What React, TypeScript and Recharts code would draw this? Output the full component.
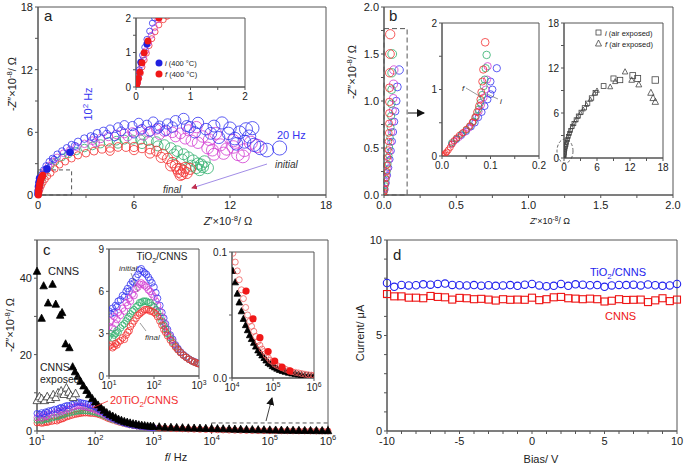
import React from "react";
import { ScatterChart, Scatter, XAxis, YAxis, ReferenceArea } from "recharts";

const FONT = "'Liberation Sans', Arial, sans-serif";
const AX = "#555";
const BLUE = "#3434f0";
const MAG = "#d23cd2";
const GREEN = "#2fae6c";
const RED = "#f23030";

// ---- panel a: Nyquist, four runs (initial -> final) ----
const aBlue = [[0.02,0.1],[0.05,0.4],[0.08,0.8],[0.12,1.2],[0.18,1.6],[0.25,2.0],[0.35,2.4],[0.5,2.8],[0.7,3.2],[0.9,3.5],[1.0,3.4],[1.2,3.9],[1.5,4.2],[1.8,4.5],[2.1,4.8],[2.3,4.7],[2.5,5.1],[2.9,5.4],[3.3,5.6],[3.5,5.5],[3.7,5.9],[4.1,6.1],[4.3,5.8],[4.5,6.3],[4.8,5.6],[5.0,6.5],[5.2,6.1],[5.4,6.7],[5.9,6.6],[6.0,5.9],[6.3,6.9],[6.5,6.3],[6.8,6.7],[7.0,6.1],[7.2,7.0],[7.5,6.4],[7.6,6.6],[8.0,6.2],[8.1,6.8],[8.4,6.5],[8.6,7.1],[9.1,7.3],[9.3,6.6],[9.5,6.5],[9.8,6.0],[10.0,6.9],[10.5,6.3],[10.8,5.9],[11.0,6.6],[11.3,5.5],[11.5,6.9],[11.9,5.9],[12.0,6.4],[12.3,5.4],[12.4,4.9],[12.6,6.0],[12.9,5.1],[13.0,6.3],[13.2,5.6],[13.4,6.4],[13.5,4.8],[13.9,4.5],[14.3,4.3],[15.1,4.5]];
const aMag = [[0.03,0.1],[0.06,0.4],[0.1,0.8],[0.15,1.2],[0.22,1.6],[0.32,2.0],[0.45,2.4],[0.65,2.8],[0.9,3.2],[1.2,3.6],[1.6,4.0],[2.0,4.3],[2.4,4.6],[2.9,4.9],[3.4,5.2],[3.6,5.0],[3.9,5.4],[4.4,5.6],[4.9,5.8],[5.4,5.9],[5.6,5.6],[5.9,6.0],[6.4,6.2],[6.6,5.7],[6.9,6.0],[7.4,6.3],[7.6,5.8],[7.9,6.1],[8.4,6.0],[8.6,5.6],[8.9,5.9],[9.2,5.4],[9.4,6.2],[9.6,5.2],[9.9,6.5],[10.0,5.0],[10.3,5.6],[10.6,4.5],[10.7,5.3],[10.9,4.3],[11.0,3.9],[11.1,5.9],[11.4,4.8],[11.6,4.0],[11.8,4.4],[12.2,5.2],[12.2,4.6],[12.5,3.9],[12.8,3.7],[12.9,4.3],[13.3,5.0],[13.7,4.7]];
const aGreen = [[0.03,0.1],[0.07,0.4],[0.12,0.8],[0.18,1.2],[0.27,1.6],[0.4,2.0],[0.55,2.4],[0.8,2.8],[1.1,3.2],[1.5,3.6],[1.9,3.9],[2.4,4.2],[2.9,4.5],[3.4,4.7],[3.9,4.9],[4.4,5.1],[4.9,5.2],[5.0,4.9],[5.4,5.3],[5.9,5.3],[6.4,5.3],[6.5,4.9],[6.9,5.2],[7.4,5.1],[7.5,4.7],[7.9,4.8],[8.3,4.5],[8.5,3.9],[8.7,4.2],[9.0,3.4],[9.1,3.9],[9.4,3.6],[9.6,2.8],[9.7,3.3],[9.9,2.6],[10.0,3.0],[10.1,2.4],[10.2,2.9],[10.3,2.7],[10.4,3.2],[10.6,2.6]];
const aRed = [[0.03,0.05],[0.08,0.3],[0.14,0.6],[0.22,0.9],[0.32,1.2],[0.45,1.5],[0.6,1.8],[0.8,2.1],[1.05,2.5],[1.35,2.9],[1.7,3.2],[2.1,3.5],[2.5,3.8],[3.0,4.0],[3.5,4.2],[4.0,4.4],[4.5,4.2],[4.5,4.5],[5.0,4.6],[5.5,4.6],[6.0,4.3],[6.0,4.6],[6.5,4.5],[7.0,4.0],[7.0,4.4],[7.4,4.2],[7.7,3.6],[7.8,3.9],[8.1,3.5],[8.3,2.8],[8.4,3.1],[8.6,2.8],[8.7,2.5],[8.8,2.2],[8.9,1.9],[8.9,2.5],[9.0,2.0],[9.1,2.3],[9.2,2.6],[9.3,2.1],[9.5,2.5]];
const aBlueDot = [[0.0,0.1],[0.01,0.4],[0.03,0.8],[0.06,1.2],[0.1,1.6],[0.56,2.5],[2.0,4.1]];
const aRedDot = [[0.02,0.0],[0.03,0.15],[0.04,0.35],[0.05,0.55],[0.07,0.75],[0.09,0.95],[0.12,1.15],[0.15,1.35],[0.19,1.55],[0.24,1.75],[0.3,1.9]];
// inset of a
const a1Red = [[0.01,0.02],[0.03,0.12],[0.05,0.25],[0.08,0.4],[0.11,0.58],[0.15,0.78],[0.19,0.98],[0.24,1.2],[0.29,1.4],[0.35,1.6],[0.42,1.8],[0.5,1.95],[0.57,2.05]];
const a1Mag = [[0.02,0.1],[0.04,0.25],[0.07,0.45],[0.1,0.65],[0.14,0.85],[0.18,1.05],[0.23,1.27],[0.28,1.5],[0.34,1.72],[0.4,1.95]];
const a1Blue = [[0.02,0.15],[0.04,0.32],[0.06,0.5],[0.09,0.72],[0.12,0.92],[0.16,1.15],[0.2,1.38],[0.25,1.62],[0.3,1.85],[0.34,2.0]];
const a1BlueDot = [[0.09,0.72],[0.2,1.25]];
const a1RedDot = [[0.01,0.03],[0.02,0.12],[0.04,0.25],[0.07,0.43],[0.11,0.7],[0.15,0.99],[0.22,1.33],[0.42,2.0]];

// ---- panel b ----
const bRed = [[0,0],[0.004,0.03],[0.008,0.07],[0.012,0.12],[0.016,0.18],[0.02,0.25],[0.023,0.32],[0.026,0.4],[0.029,0.48],[0.031,0.57],[0.033,0.66],[0.035,0.76],[0.036,0.87],[0.037,0.99],[0.038,1.14],[0.039,1.3],[0.041,1.5],[0.043,1.71]];
const bGreen = [[0.006,0.04],[0.012,0.1],[0.018,0.17],[0.024,0.25],[0.029,0.33],[0.034,0.42],[0.038,0.51],[0.042,0.61],[0.046,0.72],[0.049,0.84],[0.051,0.97],[0.053,1.12],[0.055,1.3],[0.057,1.5]];
const bMag = [[0.008,0.05],[0.015,0.12],[0.022,0.2],[0.029,0.28],[0.035,0.37],[0.041,0.46],[0.047,0.56],[0.052,0.67],[0.057,0.78],[0.061,0.9],[0.064,1.03],[0.066,1.18],[0.068,1.33]];
const bBlue = [[0.01,0.06],[0.018,0.13],[0.026,0.21],[0.034,0.29],[0.042,0.38],[0.05,0.47],[0.057,0.57],[0.064,0.67],[0.071,0.78],[0.078,0.89],[0.085,1.0],[0.092,1.15],[0.105,1.33]];
const b1Red = [[0,0],[0.002,0.01],[0.004,0.02],[0.007,0.04],[0.01,0.06],[0.013,0.09],[0.017,0.13],[0.021,0.18],[0.025,0.23],[0.03,0.27],[0.036,0.31],[0.043,0.35],[0.05,0.4],[0.057,0.45],[0.063,0.51],[0.068,0.58],[0.072,0.66],[0.076,0.75],[0.079,0.85],[0.081,0.96],[0.083,1.12],[0.085,1.3],[0.089,1.71]];
const b1Green = [[0.02,0.2],[0.03,0.26],[0.04,0.33],[0.05,0.39],[0.058,0.45],[0.065,0.52],[0.07,0.6],[0.075,0.7],[0.079,0.8],[0.083,0.92],[0.086,1.05],[0.088,1.15],[0.09,1.32],[0.092,1.52]];
const b1Mag = [[0.025,0.22],[0.035,0.28],[0.045,0.35],[0.055,0.42],[0.063,0.5],[0.07,0.58],[0.076,0.67],[0.081,0.77],[0.086,0.88],[0.09,1.0],[0.093,1.15],[0.094,1.35]];
const b1Blue = [[0.02,0.18],[0.03,0.25],[0.04,0.31],[0.05,0.37],[0.06,0.44],[0.068,0.5],[0.075,0.58],[0.082,0.66],[0.088,0.75],[0.094,0.85],[0.1,0.93],[0.104,1.0],[0.1,1.12],[0.113,1.32]];
const b2Sq = [[0,0],[0.05,0.3],[0.1,0.6],[0.15,0.9],[0.2,1.2],[0.3,1.5],[0.4,1.8],[0.5,2.1],[0.65,2.5],[0.8,2.9],[1.0,3.3],[1.2,3.7],[1.5,4.2],[1.8,4.6],[2.2,5.1],[2.6,5.6],[3.1,6.1],[3.7,6.7],[4.3,7.3],[5.0,8.0],[5.7,8.7],[7.2,9.6],[9.0,10.6],[10.2,10.4],[12.5,11.0],[13.4,10.6],[16.6,10.4]];
const b2Tri = [[0,0],[0.05,0.4],[0.1,0.7],[0.15,1.0],[0.2,1.3],[0.3,1.7],[0.4,2.0],[0.55,2.4],[0.7,2.8],[0.9,3.2],[1.1,3.6],[1.4,4.1],[1.7,4.5],[2.1,5.0],[2.5,5.5],[3.0,6.0],[3.5,6.5],[4.1,7.1],[4.8,7.8],[5.5,8.6],[6.0,9.0],[8.4,9.5],[9.3,10.2],[11.1,11.5],[12.3,10.4],[13.6,9.8],[15.8,8.7],[16.2,8.0],[16.6,7.5]];

// ---- panel c: -Z'' vs frequency ----
const cTriF = [10,12,13,15.5,18.5,21,25,27,31,36,41,45,50,56,63,71,79,89,100,112,126,141,158,178,200,224,251,282,316,355,398,447,501,562,631,708,794,891,1000,1260,1580,2000,2510,3160,3980,5010,6310,7940,1e4,1.26e4,1.58e4,2e4,2.51e4,3.16e4,3.98e4,5.01e4,6.31e4,7.94e4,1e5,1.26e5,1.58e5,2e5,2.51e5,3.16e5,3.98e5,5.01e5,6.31e5,7.94e5,1e6];
const cTriY = [41.8,29.5,38,33.5,38.4,33.2,30.3,31,22.8,21.8,16.8,15.5,14.3,13,11.8,10.6,9.5,8.5,7.6,6.8,6.1,5.4,4.8,4.3,3.9,3.5,3.1,2.8,2.5,2.3,2.1,1.9,1.8,1.6,1.5,1.4,1.3,1.25,1.2,1.1,1.0,0.95,0.9,0.85,0.8,0.76,0.72,0.68,0.65,0.6,0.56,0.52,0.48,0.44,0.4,0.36,0.33,0.3,0.27,0.24,0.21,0.19,0.17,0.15,0.13,0.12,0.1,0.09,0.08];
const cExpF = [10,11,12,13.5,15,17,19,21,23,26,29,32,35,38,42,46];
const cExpY = [8.0,9.0,8.5,8.0,9.0,8.3,9.5,8.8,10.0,10.5,9.6,11.3,10.2,9.3,8.8,9.8];
const cF = [10,11,12,13,14,15,16,18,20,22,24,26,28,30,33,36,40,44,48,52,57,62,68,75,82,90,100,110,120,135,150,165,180,200,230,260,300,340,390,450,520,600,700,800,900,1000];
const cBlue = [4.6,4.4,4.8,4.5,5.0,4.9,5.3,5.4,5.7,5.6,6.0,6.2,6.0,6.5,6.7,6.6,7.0,7.2,7.5,7.6,7.4,7.3,7.2,7.0,6.8,6.6,6.3,5.9,5.5,5.0,4.5,4.1,3.7,3.3,2.9,2.6,2.2,1.95,1.7,1.5,1.35,1.2,1.08,1.0,0.93,0.87];
const cMag = [3.5,3.9,3.4,4.2,3.7,4.0,4.5,4.3,4.8,4.6,5.2,5.0,5.5,5.3,5.8,5.7,6.2,6.3,6.5,6.6,6.5,6.4,6.3,6.1,6.0,5.8,5.6,5.3,5.0,4.6,4.2,3.8,3.5,3.15,2.8,2.5,2.15,1.9,1.68,1.49,1.33,1.19,1.07,0.99,0.92,0.87];
const cGreen = [2.8,3.0,2.7,2.9,3.0,3.2,3.1,3.4,3.6,3.7,3.9,4.1,4.2,4.4,4.6,4.7,4.9,5.0,5.2,5.2,5.3,5.3,5.3,5.2,5.2,5.0,4.9,4.7,4.5,4.2,3.9,3.6,3.35,3.0,2.7,2.4,2.1,1.88,1.66,1.48,1.33,1.19,1.07,0.98,0.92,0.86];
const cRed = [2.1,2.2,2.0,2.1,2.3,2.2,2.4,2.5,2.7,2.6,2.9,3.1,3.2,3.5,3.7,3.9,4.1,4.3,4.4,4.5,4.6,4.7,4.7,4.7,4.6,4.6,4.5,4.4,4.2,3.9,3.6,3.3,3.1,2.85,2.55,2.3,2.05,1.85,1.65,1.47,1.32,1.18,1.06,0.98,0.91,0.86];
const cTailF = [1260,1580,2000,2510,3160,3980,5010,6310,7940,1e4,1.26e4,1.58e4,2e4,2.51e4,3.16e4,3.98e4,5.01e4,6.31e4,7.94e4,1e5,1.26e5,1.58e5,2e5,2.51e5,3.16e5,3.98e5,5.01e5,6.31e5,7.94e5,1e6];
const cTailRed = [0.8,0.74,0.68,0.62,0.57,0.52,0.48,0.44,0.4,0.36,0.32,0.28,0.24,0.21,0.18,0.15,0.13,0.11,0.09,0.08,0.07,0.06,0.05,0.04,0.035,0.03,0.025,0.02,0.015,0.01];
const c2F = [1.05e4,1.2e4,1.35e4,1.5e4,1.7e4,1.9e4,2.15e4,2.4e4,2.7e4,3.0e4,3.4e4,3.8e4,4.3e4,4.8e4,5.4e4,6.1e4,6.8e4,7.7e4,8.6e4,9.7e4,1.1e5,1.25e5,1.45e5,1.7e5,2e5,2.4e5,2.9e5,3.5e5,4.2e5,5e5,6e5,7.2e5,8.6e5,1e6];
const c2Tri = [0.085,0.076,0.067,0.06,0.053,0.047,0.042,0.038,0.034,0.031,0.028,0.025,0.022,0.02,0.018,0.016,0.014,0.012,0.011,0.0095,0.0085,0.0075,0.0065,0.0057,0.005,0.0043,0.0037,0.0032,0.0028,0.0024,0.002,0.0017,0.0014,0.0012];
const c2Ring = [0.099,0.092,0.085,0.078,0.07,0.063,0.056,0.05,0.045,0.041,0.037,0.033,0.029,0.026,0.023,0.021,0.018,0.016,0.014,0.013,0.011,0.01,0.009,0.008,0.007,0.006,0.005,0.0045,0.004,0.0035,0.003,0.0026,0.0023,0.002];
const c2DotF = [2.2e4,3.25e4,4.8e4,7.6e4,1.1e5,1.66e5,2.6e5];
const c2DotY = [0.069,0.047,0.032,0.021,0.0135,0.0087,0.0056];

// ---- panel d: I-V ----
const dBias = [-10,-9.5,-9,-8.5,-8,-7.5,-7,-6.5,-6,-5.5,-5,-4.5,-4,-3.5,-3,-2.5,-2,-1.5,-1,-0.5,0,0.5,1,1.5,2,2.5,3,3.5,4,4.5,5,5.5,6,6.5,7,7.5,8,8.5,9,9.5,10];
const dTiO2 = [7.75,7.55,7.65,7.62,7.63,7.68,7.66,7.7,7.72,7.65,7.63,7.62,7.64,7.61,7.63,7.6,7.62,7.64,7.6,7.66,7.7,7.62,7.58,7.6,7.7,7.6,7.68,7.66,7.63,7.64,7.55,7.62,7.65,7.64,7.66,7.62,7.67,7.63,7.6,7.62,7.7];
const dCNNS = [7.17,7.05,7.05,6.98,6.98,6.95,7.07,7.02,7.0,6.88,6.97,6.95,6.9,6.92,6.88,6.83,6.9,6.87,6.88,6.87,6.98,6.85,6.9,7.0,7.02,6.95,6.93,6.9,6.93,6.9,6.78,6.82,6.9,6.86,6.87,6.88,6.75,6.84,6.95,6.8,6.88];

type Pt = { x: number; y: number };
const pts = (a: number[][]): Pt[] => a.map(([x, y]) => ({ x, y }));
const zip = (xs: number[], ys: number[]): Pt[] => xs.map((x, i) => ({ x, y: ys[i] }));

const step = (s: number, digits = 0) => (v: number) =>
  Math.abs(v / s - Math.round(v / s)) < 1e-6 ? v.toFixed(digits) : null;

function makeTick(side: "x" | "y", fmt: (v: number) => string | null, fs: number, log?: boolean) {
  return (p: any) => {
    const v = p.payload.value;
    if (log) {
      const e = Math.round(Math.log10(v));
      return (
        <text x={p.x} y={p.y} dy={fs * 0.8} textAnchor="middle" fontSize={fs} fill="#222" fontFamily={FONT}>
          10<tspan dy={-fs * 0.4} fontSize={fs * 0.68}>{e}</tspan>
        </text>
      );
    }
    const s = fmt(v);
    if (s == null) return <g />;
    if (side === "x")
      return <text x={p.x} y={p.y} dy={fs * 0.8} textAnchor="middle" fontSize={fs} fill="#222" fontFamily={FONT}>{s}</text>;
    return <text x={p.x} y={p.y} dy={fs * 0.36} textAnchor="end" fontSize={fs} fill="#222" fontFamily={FONT}>{s}</text>;
  };
}

type FrameProps = {
  box: number[];
  xd: [number, number];
  yd: [number, number];
  xt: number[];
  yt: number[];
  xf?: (v: number) => string | null;
  yf?: (v: number) => string | null;
  log?: boolean;
  clip?: boolean;
  fs?: number;
  children?: React.ReactNode;
};

// places a scatter chart so that its plot area is exactly box = [x0, y0, x1, y1]
function Frame({ box, xd, yd, xt, yt, xf = step(1), yf = step(1), log = false, clip = true, fs = 11, children }: FrameProps) {
  const [x0, y0, x1, y1] = box;
  const yw = 34, xh = 22, mt = 8, mr = 14, mb = 4;
  return (
    <div style={{ position: "absolute", left: x0 - yw, top: y0 - mt }}>
      <ScatterChart width={x1 - x0 + yw + mr} height={y1 - y0 + mt + xh + mb} margin={{ top: mt, right: mr, bottom: mb, left: 0 }}>
        <XAxis dataKey="x" type="number" domain={xd} ticks={xt} interval={0} scale={log ? "log" : "auto"} allowDataOverflow={clip}
          height={xh} stroke={AX} tickSize={3} tick={makeTick("x", xf, fs, log)} />
        <YAxis dataKey="y" type="number" domain={yd} ticks={yt} interval={0} allowDataOverflow={clip}
          width={yw} stroke={AX} tickSize={3} tick={makeTick("y", yf, fs)} />
        <ReferenceArea x1={xd[0]} x2={xd[1]} y1={yd[0]} y2={yd[1]} fill="none" stroke={AX} strokeWidth={1} ifOverflow="visible" />
        {children}
      </ScatterChart>
    </div>
  );
}

type Size = number | ((d: Pt) => number);
const sz = (s: Size, d: Pt) => (typeof s === "number" ? s : s(d));

const ring = (c: string, r: Size, w = 0.8) => (p: any) =>
  p.cx == null ? <g /> : <circle cx={p.cx} cy={p.cy} r={sz(r, p.payload)} fill="none" stroke={c} strokeWidth={w} />;
const disc = (c: string, r: number) => (p: any) =>
  p.cx == null ? <g /> : <circle cx={p.cx} cy={p.cy} r={r} fill={c} />;
const tri = (fill: string, stroke: string, s: Size) => (p: any) => {
  if (p.cx == null) return <g />;
  const k = sz(s, p.payload);
  const { cx, cy } = p;
  return <polygon points={`${cx},${cy - k * 0.55} ${cx - k / 2},${cy + k * 0.4} ${cx + k / 2},${cy + k * 0.4}`} fill={fill} stroke={stroke} strokeWidth={0.8} />;
};
const square = (c: string, s: Size, w = 0.9) => (p: any) => {
  if (p.cx == null) return <g />;
  const k = sz(s, p.payload);
  return <rect x={p.cx - k / 2} y={p.cy - k / 2} width={k} height={k} fill="none" stroke={c} strokeWidth={w} />;
};

const S = (data: Pt[], shape: any, key: string) => (
  <Scatter key={key} data={data} shape={shape} isAnimationActive={false} />
);

const aR = (d: Pt) => 3 + 0.27 * d.x;
const bR = (d: Pt) => 2.6 + 1.2 * d.y;
const b1R = (d: Pt) => 3 + 0.5 * d.y;
const b2S = (d: Pt) => 3.5 + 0.18 * d.x;

function PanelA() {
  return (
    <>
      <Frame box={[38, 7, 326, 195]} xd={[0, 18]} yd={[0, 18]} xt={[0, 3, 6, 9, 12, 15, 18]} yt={[0, 3, 6, 9, 12, 15, 18]} xf={step(6)} yf={step(6)} clip={false}>
        <ReferenceArea x1={0} x2={2.1} y1={0} y2={2.4} fill="none" stroke="#555" strokeDasharray="4 3" />
        {S(pts(aGreen), ring(GREEN, aR), "g")}
        {S(pts(aRed), ring(RED, aR), "r")}
        {S(pts(aMag), ring(MAG, aR), "m")}
        {S(pts(aBlue), ring(BLUE, aR), "b")}
        {S(pts(aBlueDot), disc("#2020e0", 3.8), "bd")}
        {S(pts(aRedDot), disc("#f01818", 3.5), "rd")}
      </Frame>
      <Frame box={[136, 18, 245, 87]} xd={[0, 2]} yd={[0, 2]} xt={[0, 0.5, 1, 1.5, 2]} yt={[0, 0.5, 1, 1.5, 2]} fs={10}>
        {S(pts(a1Red), ring(RED, 3), "r")}
        {S(pts(a1Mag), ring(MAG, 3), "m")}
        {S(pts(a1Blue), ring(BLUE, 3), "b")}
        {S(pts(a1BlueDot), disc("#2020e0", 3.5), "bd")}
        {S(pts(a1RedDot), disc("#f01818", 3.5), "rd")}
      </Frame>
    </>
  );
}

function PanelB() {
  const qt = [0, 0.25, 0.5, 0.75, 1, 1.25, 1.5, 1.75, 2];
  return (
    <>
      <Frame box={[384, 7, 673, 195]} xd={[0, 2]} yd={[0, 2]} xt={qt} yt={qt} xf={step(0.5, 1)} yf={step(0.5, 1)}>
        <ReferenceArea x1={0} x2={0.16} y1={0} y2={1.77} fill="none" stroke="#555" strokeDasharray="5 3" />
        {S(pts(bBlue), ring(BLUE, bR), "b")}
        {S(pts(bMag), ring(MAG, bR), "m")}
        {S(pts(bGreen), ring(GREEN, bR), "g")}
        {S(pts(bRed), ring(RED, bR), "r")}
      </Frame>
      <Frame box={[442, 23, 539, 156]} xd={[0, 0.2]} yd={[0, 2]} xt={[0, 0.05, 0.1, 0.15, 0.2]} yt={[0, 0.5, 1, 1.5, 2]} xf={step(0.1, 1)} fs={10}>
        {S(pts(b1Blue), ring(BLUE, b1R), "b")}
        {S(pts(b1Mag), ring(MAG, b1R), "m")}
        {S(pts(b1Green), ring(GREEN, b1R), "g")}
        {S(pts(b1Red), ring(RED, b1R), "r")}
      </Frame>
      <Frame box={[564, 23, 663, 158]} xd={[0, 18]} yd={[0, 18]} xt={[0, 3, 6, 9, 12, 15, 18]} yt={[0, 3, 6, 9, 12, 15, 18]} xf={step(6)} yf={step(6)} fs={10}>
        {S(pts(b2Sq), square("#444", b2S, 0.8), "s")}
        {S(pts(b2Tri), tri("none", "#444", b2S), "t")}
      </Frame>
    </>
  );
}

function PanelC() {
  return (
    <>
      <Frame box={[37, 240, 328, 431]} xd={[10, 1e6]} yd={[0, 50]} xt={[10, 100, 1e3, 1e4, 1e5, 1e6]} yt={[0, 10, 20, 30, 40, 50]} yf={step(20)} log clip={false}>
        <ReferenceArea x1={1e4} x2={1e6} y1={0} y2={2.1} fill="none" stroke="#555" strokeDasharray="4 3" />
        {S(zip(cF, cRed), ring(RED, 3), "r")}
        {S(zip(cTailF, cTailRed), ring(RED, 3), "rt")}
        {S(zip(cF, cGreen), ring(GREEN, 3), "g")}
        {S(zip(cF, cMag), ring(MAG, 3), "m")}
        {S(zip(cF, cBlue), ring(BLUE, 3), "b")}
        {S(zip(cExpF, cExpY), tri("#fff", "#333", 8), "e")}
        {S(zip(cTriF, cTriY), tri("#000", "#000", 7.5), "t")}
      </Frame>
      <Frame box={[109, 249, 199, 376]} xd={[10, 1000]} yd={[0, 9]} xt={[10, 100, 1000]} yt={[0, 3, 6, 9]} log fs={10}>
        {S(zip(cF, cBlue), ring(BLUE, 3.3), "b")}
        {S(zip(cF, cMag), ring(MAG, 3.3), "m")}
        {S(zip(cF, cGreen), ring(GREEN, 3.3), "g")}
        {S(zip(cF, cRed), ring(RED, 3.3), "r")}
      </Frame>
      <Frame box={[232, 252, 314, 378]} xd={[1e4, 1e6]} yd={[0, 0.1]} xt={[1e4, 1e5, 1e6]} yt={[0, 0.05, 0.1]} yf={step(0.1, 1)} log fs={10}>
        {S(zip(c2F, c2Tri), tri("#000", "#000", 6.5), "t")}
        {S(zip(c2F, c2Ring), ring("#f06060", 3), "r")}
        {S(zip(c2DotF, c2DotY), disc("#f01818", 3.6), "d")}
      </Frame>
    </>
  );
}

function PanelD() {
  const xt = [-10,-9,-8,-7,-6,-5,-4,-3,-2,-1,0,1,2,3,4,5,6,7,8,9,10];
  const yt = [0,1,2,3,4,5,6,7,8,9,10];
  return (
    <Frame box={[387, 240, 677, 431]} xd={[-10, 10]} yd={[0, 10]} xt={xt} yt={yt} xf={step(5)} yf={step(5)} clip={false}>
      {S(zip(dBias, dCNNS), square("#ee1515", 7, 1.1), "c")}
      {S(zip(dBias, dTiO2), ring("#2323ee", 3.7, 1.1), "t")}
    </Frame>
  );
}

const Sup = ({ t, fs }: { t: string; fs: number }) => (
  <>
    <tspan dy={-fs * 0.38} fontSize={fs * 0.7}>{t}</tspan>
    <tspan dy={fs * 0.38}>{"/ Ω"}</tspan>
  </>
);

function Notes() {
  const tc = "#222";
  return (
    <svg width={685} height={466} style={{ position: "absolute", left: 0, top: 0, pointerEvents: "none" }} fontFamily={FONT}>
      <defs>
        <marker id="ah" markerWidth="8" markerHeight="8" refX="7" refY="4" orient="auto" markerUnits="userSpaceOnUse">
          <path d="M0,0 L8,4 L0,8 z" fill="#111" />
        </marker>
        <marker id="ahs" markerWidth="6" markerHeight="6" refX="5" refY="3" orient="auto" markerUnits="userSpaceOnUse">
          <path d="M0,0 L6,3 L0,6 z" fill="#c03050" />
        </marker>
      </defs>
      {/* panel letters */}
      <text x={44} y={21} fontSize={15} fill={tc}>a</text>
      <text x={389} y={21} fontSize={15} fill={tc}>b</text>
      <text x={43} y={255} fontSize={15} fill={tc}>c</text>
      <text x={393} y={260} fontSize={15} fill={tc}>d</text>

      {/* axis titles */}
      <text x={228} y={225} fontSize={11} textAnchor="middle" fill={tc}>
        <tspan fontStyle="italic">Z</tspan>′×10<Sup t="-8" fs={11} />
      </text>
      <text transform="translate(16,84) rotate(-90)" fontSize={11} textAnchor="middle" fill={tc}>
        -<tspan fontStyle="italic">Z</tspan>″×10<Sup t="-8" fs={11} />
      </text>
      <text x={550} y={224} fontSize={9} textAnchor="middle" fill={tc}>
        <tspan fontStyle="italic">Z</tspan>′×10<Sup t="-8" fs={9} />
      </text>
      <text transform="translate(356,72) rotate(-90)" fontSize={11} textAnchor="middle" fill={tc}>
        -<tspan fontStyle="italic">Z</tspan>″×10<Sup t="-8" fs={11} />
      </text>
      <text x={176} y={461} fontSize={11} textAnchor="middle" fill={tc}>
        <tspan fontStyle="italic">f</tspan>/ Hz
      </text>
      <text transform="translate(14,325) rotate(-90)" fontSize={11} textAnchor="middle" fill={tc}>
        -<tspan fontStyle="italic">Z</tspan>″×10<Sup t="-8" fs={11} />
      </text>
      <text x={541} y={463} fontSize={11} textAnchor="middle" fill={tc}>Bias/ V</text>
      <text transform="translate(364,333) rotate(-90)" fontSize={11} textAnchor="middle" fill={tc}>Current/ μA</text>

      {/* panel a notes */}
      <text transform="translate(92,104) rotate(-90)" fontSize={11} textAnchor="middle" fill={BLUE}>
        10<tspan dy={-4} fontSize={8}>2</tspan><tspan dy={4}> Hz</tspan>
      </text>
      <text x={277} y={139} fontSize={11} fill={BLUE}>20 Hz</text>
      <text x={275} y={168} fontSize={10} fontStyle="italic" fill="#333">initial</text>
      <text x={163} y={193} fontSize={10} fontStyle="italic" fill="#333">final</text>
      <line x1={267} y1={164} x2={192} y2={188} stroke="#8a70e0" strokeWidth={0.8} markerEnd="url(#ahs)" />
      <circle cx={159} cy={63} r={3.5} fill="#2020e0" />
      <text x={165} y={66} fontSize={7.5} fill={tc}><tspan fontStyle="italic">i</tspan> (400 °C)</text>
      <circle cx={159} cy={74} r={3.5} fill="#f01818" />
      <text x={165} y={77} fontSize={7.5} fill={tc}><tspan fontStyle="italic">f</tspan> (400 °C)</text>

      {/* panel b notes */}
      <line x1={408} y1={113} x2={424} y2={113} stroke="#111" strokeWidth={1} markerEnd="url(#ah)" />
      <text x={462} y={91} fontSize={8} fontStyle="italic" fill={tc}>f</text>
      <line x1={466} y1={88} x2={481} y2={97} stroke="#555" strokeWidth={0.6} />
      <text x={500} y={104} fontSize={8} fontStyle="italic" fill={tc}>i</text>
      <line x1={498} y1={99} x2={487} y2={94} stroke="#555" strokeWidth={0.6} />
      <rect x={596} y={30} width={5} height={5} fill="none" stroke="#444" strokeWidth={0.8} />
      <text x={605} y={36} fontSize={7.5} fill={tc}><tspan fontStyle="italic">i</tspan> (air exposed)</text>
      <polygon points="598.5,40 595.5,46 601.5,46" fill="none" stroke="#444" strokeWidth={0.8} />
      <text x={605} y={47} fontSize={7.5} fill={tc}><tspan fontStyle="italic">f</tspan> (air exposed)</text>
      <ellipse cx={565} cy={151} rx={8} ry={12} fill="none" stroke="#444" strokeWidth={0.8} strokeDasharray="3 2" />

      {/* panel c notes */}
      <text x={48} y={275} fontSize={11} fill={tc}>CNNS</text>
      <text x={40} y={371} fontSize={10.5} fill={tc}>CNNS</text>
      <text x={40} y={383} fontSize={10.5} fill={tc}>exposed</text>
      <text x={110} y={404} fontSize={11} fill={RED}>20TiO<tspan dy={3} fontSize={8}>2</tspan><tspan dy={-3}>/CNNS</tspan></text>
      <line x1={108} y1={401} x2={92} y2={408} stroke={RED} strokeWidth={0.8} />
      <line x1={266} y1={421} x2={272} y2={398} stroke="#111" strokeWidth={0.8} markerEnd="url(#ah)" />
      <text x={162} y={260} fontSize={10} textAnchor="middle" fill={tc}>TiO<tspan dy={3} fontSize={7}>2</tspan><tspan dy={-3}>/CNNS</tspan></text>
      <text x={119} y={271} fontSize={8} fontStyle="italic" fill="#333">initial</text>
      <line x1={131} y1={273} x2={138} y2={292} stroke="#555" strokeWidth={0.6} />
      <text x={145} y={340} fontSize={8} fontStyle="italic" fill="#333">final</text>
      <line x1={146} y1={331} x2={140} y2={323} stroke="#555" strokeWidth={0.6} />

      {/* panel d notes */}
      <text x={590} y={276} fontSize={11} fill="#2323ee">TiO<tspan dy={3} fontSize={8}>2</tspan><tspan dy={-3}>/CNNS</tspan></text>
      <text x={605} y={320} fontSize={11} fill="#ee1515">CNNS</text>
    </svg>
  );
}

export default function App() {
  return (
    <div style={{ position: "absolute", left: 0, top: 0, width: 685, height: 466, background: "#fff", fontFamily: FONT, overflow: "hidden" }}>
      <PanelA />
      <PanelB />
      <PanelC />
      <PanelD />
      <Notes />
    </div>
  );
}
